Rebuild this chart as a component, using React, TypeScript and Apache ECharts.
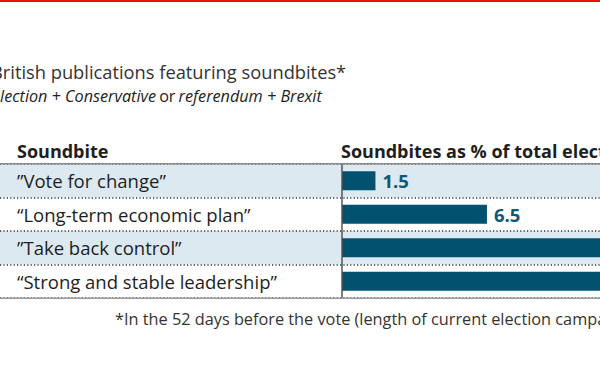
import React, { useEffect, useRef } from "react";
import * as echarts from "echarts";

const soundbites = [
  "”Vote for change”",
  "“Long-term economic plan”",
  "”Take back control”",
  "“Strong and stable leadership”",
];
const shares = [1.5, 6.5, 17.2, 21.8];
const titleText = "British publications featuring soundbites*";
const columnHeaders = ["Soundbite", "Soundbites as % of total election coverage"];
const footnote = "*In the 52 days before the vote (length of current election campaign)";

const FONT = "Open Sans";

export default function App() {
  const ref = useRef<HTMLDivElement>(null);
  useEffect(() => {
    if (!ref.current) return;
    const chart = echarts.init(ref.current, undefined, { renderer: "svg" });
    chart.setOption({
      animation: false,
      backgroundColor: "#ffffff",
      textStyle: { fontFamily: FONT },
      grid: [
        { left: 342, top: 164, width: 892, height: 134 },
        { left: 0, right: 0, top: 164, height: 134 },
      ],
      xAxis: [
        { type: "value", gridIndex: 0, min: 0, max: 40, show: false },
        { type: "value", gridIndex: 1, min: 0, max: 1, show: false },
      ],
      yAxis: [
        {
          type: "category",
          gridIndex: 0,
          data: soundbites,
          inverse: true,
          axisLine: { show: true, lineStyle: { color: "#555", width: 1.5 } },
          axisTick: { show: false },
          axisLabel: { show: false },
          splitLine: { show: false },
          z: 5,
        },
        {
          type: "category",
          gridIndex: 1,
          data: soundbites,
          inverse: true,
          axisLine: { show: false },
          axisTick: { show: false },
          axisLabel: {
            inside: true,
            margin: 17,
            fontSize: 18.5,
            color: "#1e1e1e",
            fontFamily: FONT,
          },
          splitArea: { show: true, areaStyle: { color: ["#dce9f1", "rgba(255,255,255,0)"] } },
          splitLine: { show: true, lineStyle: { color: "#333", width: 1.6, type: [1.2, 2.2] } },
          z: 0,
        },
      ],
      series: [
        {
          type: "bar",
          xAxisIndex: 0,
          yAxisIndex: 0,
          data: shares,
          barWidth: 19,
          itemStyle: { color: "#02526f" },
          z: 3,
          label: {
            show: true,
            position: "right",
            distance: 7,
            fontSize: 18.5,
            fontWeight: "bold",
            color: "#0f5876",
            fontFamily: FONT,
          },
        },
      ],
      graphic: [
        { type: "rect", shape: { x: 0, y: 0, width: 1300, height: 2 }, style: { fill: "#e3120b" }, z: 10 },
        {
          type: "text",
          x: -9,
          y: 80,
          style: { text: titleText, fontSize: 18.3, fill: "#333", fontFamily: FONT, textVerticalAlign: "bottom" },
        },
        {
          type: "text",
          x: -8,
          y: 104,
          style: {
            text: "{i|election + Conservative} {n|or} {i|referendum + Brexit}",
            fontFamily: FONT,
            textVerticalAlign: "bottom",
            rich: {
              i: { fontStyle: "italic", fontSize: 16.2, fill: "#222", fontFamily: FONT },
              n: { fontSize: 16.2, fill: "#222", fontFamily: FONT },
            },
          },
        },
        {
          type: "text",
          x: 17,
          y: 160,
          style: { text: columnHeaders[0], fontSize: 18, fontWeight: "bold", fill: "#1e1e1e", fontFamily: FONT, textVerticalAlign: "bottom" },
        },
        {
          type: "text",
          x: 341,
          y: 160,
          style: { text: columnHeaders[1], fontSize: 18, fontWeight: "bold", fill: "#1e1e1e", fontFamily: FONT, textVerticalAlign: "bottom" },
        },
        { type: "rect", shape: { x: 0, y: 163, width: 1300, height: 1.5 }, style: { fill: "#8c8c8c" }, z: 10 },
        { type: "rect", shape: { x: 0, y: 297.5, width: 1300, height: 1.5 }, style: { fill: "#9a9a9a" }, z: 10 },
        {
          type: "text",
          x: 115,
          y: 327,
          style: { text: footnote, fontSize: 16.3, fill: "#333", fontFamily: FONT, textVerticalAlign: "bottom" },
        },
      ],
    });
    return () => chart.dispose();
  }, []);
  return (
    <div style={{ position: "fixed", left: 0, top: 0, width: 600, height: 375, overflow: "hidden", background: "#fff" }}>
      <div ref={ref} style={{ width: 1300, height: 375 }} />
    </div>
  );
}
